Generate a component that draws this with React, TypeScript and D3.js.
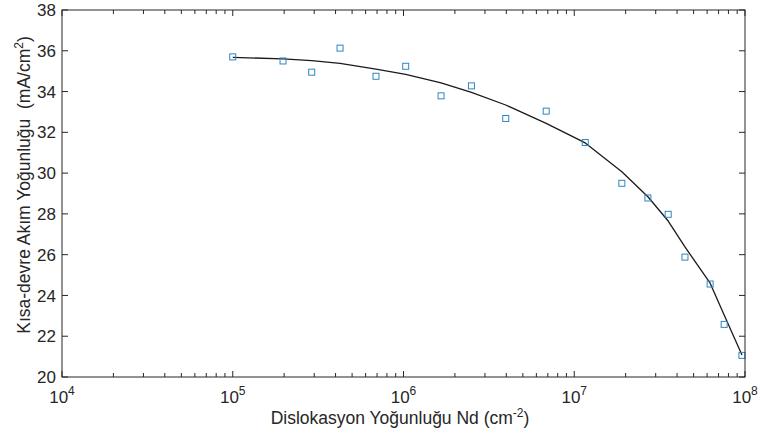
import React from "react";
import * as d3 from "d3";

const ndValues = [1.0e5, 1.97e5, 2.9e5, 4.25e5, 6.9e5, 1.03e6, 1.66e6, 2.5e6, 3.97e6, 6.85e6, 1.16e7, 1.9e7, 2.7e7, 3.55e7, 4.45e7, 6.25e7, 7.55e7, 9.6e7];
const jscMeasured = [35.7, 35.5, 34.95, 36.13, 34.75, 35.24, 33.79, 34.28, 32.68, 33.04, 31.5, 29.5, 28.78, 27.98, 25.88, 24.56, 22.58, 21.06];
const jscFit = [35.68, 35.6, 35.52, 35.38, 35.1, 34.84, 34.42, 33.96, 33.34, 32.44, 31.48, 30.07, 28.84, 27.65, 26.38, 24.6, 23.04, 21.08];
const yTicks = [20, 22, 24, 26, 28, 30, 32, 34, 36, 38];
const xDecades = [4, 5, 6, 7, 8];

const W = 760, H = 445;
const M = { left: 62, right: 745, top: 10, bottom: 377 };
const FONT = "'Liberation Sans', Arial, Helvetica, sans-serif";
const AX = "#262626";

export default function App() {
  const x = d3.scaleLog().domain([1e4, 1e8]).range([M.left, M.right]);
  const y = d3.scaleLinear().domain([20, 38]).range([M.bottom, M.top]);

  const minor: number[] = [];
  for (let d = 4; d < 8; d++) for (let k = 2; k <= 9; k++) minor.push(k * Math.pow(10, d));

  const line = d3.line<number>().x((_, i) => x(ndValues[i])).y((v) => y(v));

  return (
    <svg width={W} height={H} style={{ position: "absolute", left: 0, top: 0, background: "#fff" }} fontFamily={FONT}>
      <rect x={0} y={0} width={W} height={H} fill="#fff" />
      <path d={line(jscFit) || ""} fill="none" stroke="#1a1a1a" strokeWidth={1.3} strokeLinejoin="round" />
      {jscMeasured.map((v, i) => (
        <rect key={i} x={x(ndValues[i]) - 3} y={y(v) - 3} width={6} height={6} fill="none" stroke="#2f86c0" strokeWidth={1} />
      ))}
      <rect x={M.left} y={M.top} width={M.right - M.left} height={M.bottom - M.top} fill="none" stroke={AX} strokeWidth={1} />
      {yTicks.map((t) => (
        <g key={t}>
          <line x1={M.left} x2={M.left + 6} y1={y(t)} y2={y(t)} stroke={AX} />
          <line x1={M.right} x2={M.right - 6} y1={y(t)} y2={y(t)} stroke={AX} />
          <text x={M.left - 6} y={y(t)} dy="0.36em" textAnchor="end" fontSize={17} fill={AX}>{t}</text>
        </g>
      ))}
      {xDecades.map((d) => {
        const px = x(Math.pow(10, d));
        return (
          <g key={d}>
            <line x1={px} x2={px} y1={M.bottom} y2={M.bottom - 6} stroke={AX} />
            <line x1={px} x2={px} y1={M.top} y2={M.top + 6} stroke={AX} />
            <text x={px} y={403} textAnchor="middle" fontSize={17} fill={AX}>
              10<tspan dy={-8} fontSize={12}>{d}</tspan>
            </text>
          </g>
        );
      })}
      {minor.map((m, i) => {
        const px = x(m);
        return (
          <g key={"m" + i}>
            <line x1={px} x2={px} y1={M.bottom} y2={M.bottom - 4} stroke={AX} />
            <line x1={px} x2={px} y1={M.top} y2={M.top + 4} stroke={AX} />
          </g>
        );
      })}
      <text x={400} y={424} textAnchor="middle" fontSize={17.5} fill={AX}>
        Dislokasyon Yoğunluğu Nd (cm<tspan dy={-7} fontSize={12}>-2</tspan><tspan dy={7}>)</tspan>
      </text>
      <text transform={`translate(30, 185) rotate(-90)`} textAnchor="middle" fontSize={17.5} fill={AX} style={{ whiteSpace: "pre" }}>
        {"Kısa-devre Akım Yoğunluğu  (mA/cm"}<tspan dy={-7} fontSize={12}>2</tspan><tspan dy={7}>)</tspan>
      </text>
    </svg>
  );
}
